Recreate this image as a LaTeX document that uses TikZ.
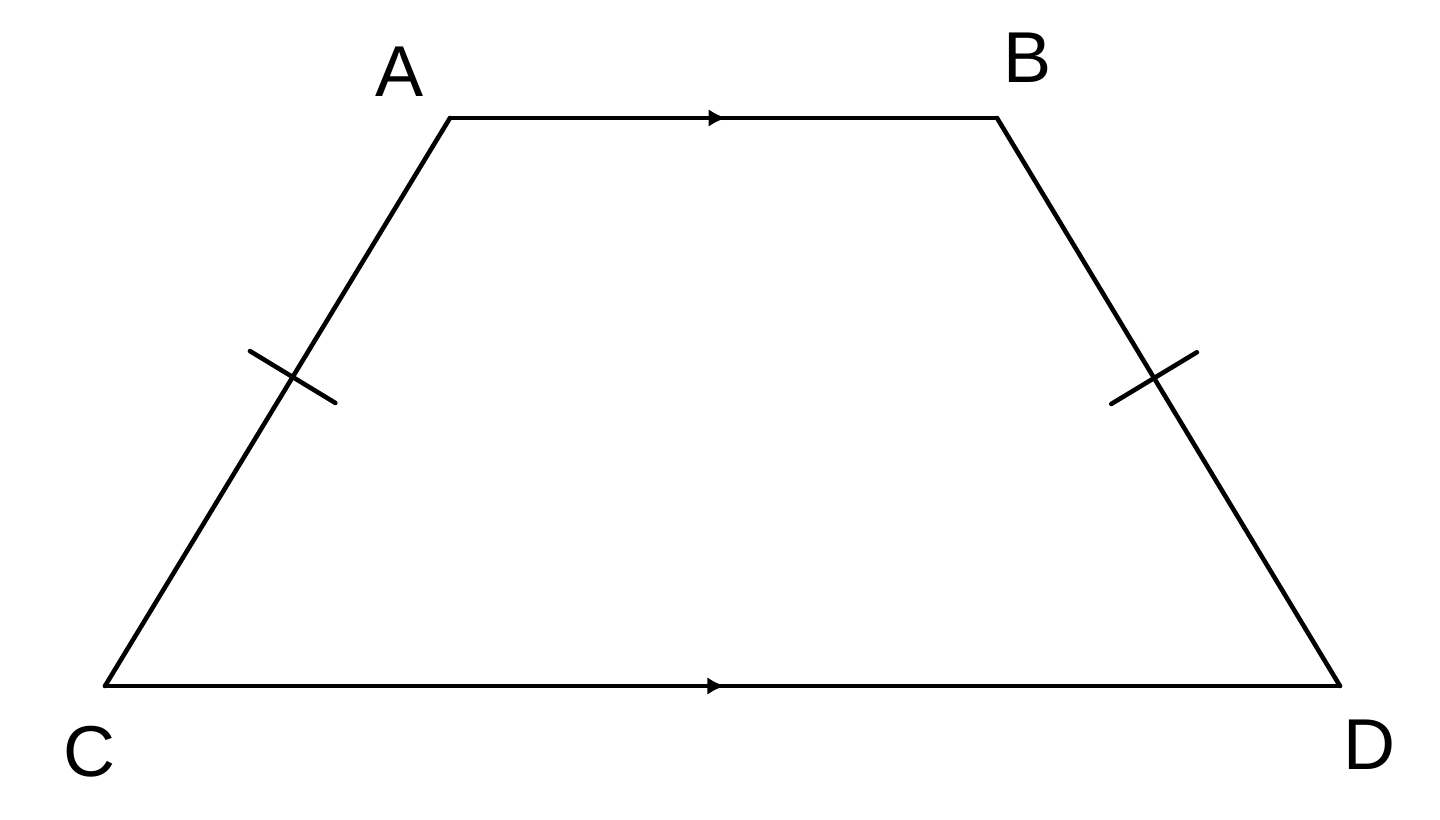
\documentclass[tikz,border=0pt]{standalone}
\usepackage{fontspec}
\setmainfont{Liberation Sans}
\usetikzlibrary{decorations.markings,arrows.meta}

\tikzset{
  side/.style={line width=1.3pt,line cap=round},
  midarrow/.style={postaction={decorate,decoration={markings,
      mark=at position #1 with {\arrow{Latex[length=5pt,width=5pt]}}}}},
  tickmark/.style={postaction={decorate,decoration={markings,
      mark=at position #1 with {\draw[line width=1.3pt] (0,-0.5) -- (0,0.5);}}}},
  vlabel/.style={font=\fontsize{20.5}{24}\selectfont}
}

\begin{document}
\begin{tikzpicture}

  % Frame
  \useasboundingbox (0,0) rectangle (14.4,8.2);

  % Corners of the trapezium
  \coordinate (A) at (4.50,7.02);
  \coordinate (B) at (9.97,7.02);
  \coordinate (C) at (1.05,1.34);
  \coordinate (D) at (13.40,1.34);

  % Parallel sides with arrows
  \draw[side,midarrow=0.505] (A) -- (B);
  \draw[side,midarrow=0.502] (C) -- (D);

  % Equal sides with ticks
  \draw[side,tickmark=0.544] (C) -- (A);
  \draw[side,tickmark=0.458] (B) -- (D);

  % Labels
  \node[vlabel] (labA) at (4.00,7.48) {A};
  \node[vlabel] (labB) at (10.28,7.62) {B};
  \node[vlabel] (labC) at (0.90,0.68) {C};
  \node[vlabel] (labD) at (13.70,0.75) {D};

\end{tikzpicture}
\end{document}
